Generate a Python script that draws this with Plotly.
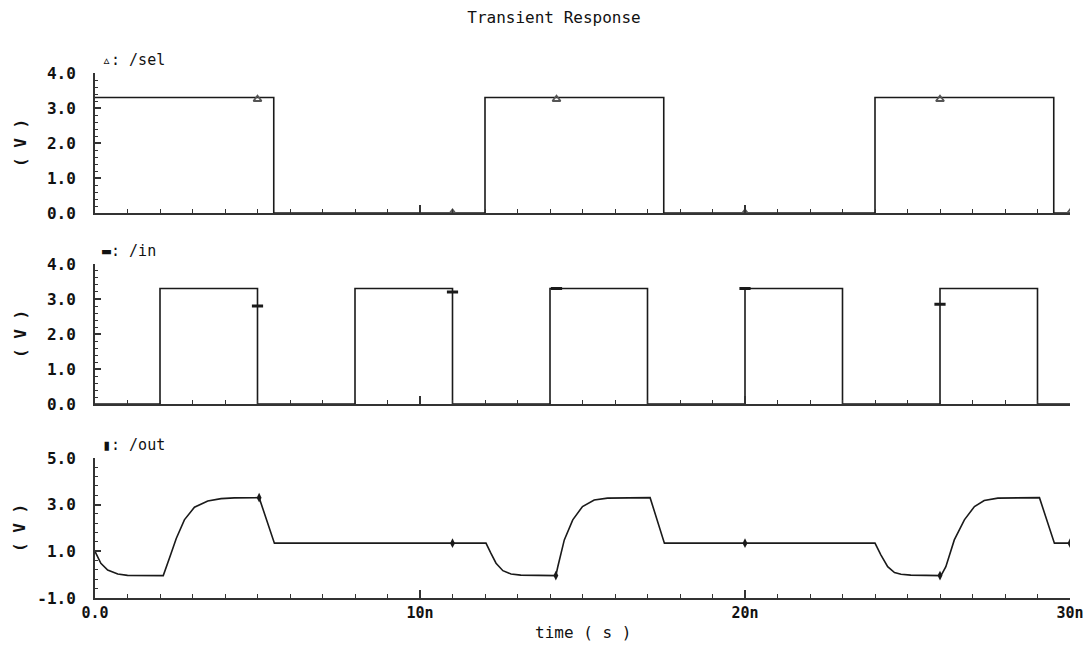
import plotly.graph_objects as go
from plotly.subplots import make_subplots

# ---------------- data (time in ns, values in V) ----------------
sel_t = [0, 5.5, 5.5, 12, 12, 17.5, 17.5, 24, 24, 29.5, 29.5, 30]
sel_v = [3.3, 3.3, 0, 0, 3.3, 3.3, 0, 0, 3.3, 3.3, 0, 0]

in_t = [0, 2, 2, 5, 5, 8, 8, 11, 11, 14, 14, 17, 17, 20, 20, 23, 23, 26, 26, 29, 29, 30]
in_v = [0, 0, 3.3, 3.3, 0, 0, 3.3, 3.3, 0, 0, 3.3, 3.3, 0, 0, 3.3, 3.3, 0, 0, 3.3, 3.3, 0, 0]

out_t = [0.0, 0.18, 0.39, 0.7, 1.0, 2.1, 2.3, 2.5, 2.75, 3.06, 3.47, 3.88, 4.29, 5.05, 5.52,
         12.03, 12.18, 12.34, 12.55, 12.8, 13.1, 14.18, 14.24, 14.44, 14.7, 15.0, 15.36,
         15.77, 17.08, 17.52, 24.0, 24.18, 24.39, 24.6, 24.8, 25.1, 26.03, 26.18, 26.44,
         26.75, 27.06, 27.36, 27.78, 29.06, 29.52, 30.0]
out_v = [1.0, 0.49, 0.2, 0.03, -0.03, -0.04, 0.75, 1.55, 2.35, 2.89, 3.16, 3.26, 3.29, 3.3, 1.35,
         1.35, 0.92, 0.49, 0.17, 0.03, -0.02, -0.04, 0.34, 1.49, 2.35, 2.92, 3.2,
         3.28, 3.3, 1.35, 1.35, 0.85, 0.34, 0.09, 0.02, -0.02, -0.04, 0.34, 1.49,
         2.35, 2.92, 3.18, 3.28, 3.3, 1.35, 1.35]

sel_mk_t = [5.0, 11.0, 14.2, 20.0, 26.0, 30.0]
sel_mk_v = [3.25, 0.0, 3.25, 0.0, 3.25, 0.0]
in_mk_t = [5.0, 11.0, 14.2, 20.0, 26.0]
in_mk_v = [2.8, 3.2, 3.3, 3.3, 2.85]
out_mk_t = [5.05, 11.0, 14.18, 20.0, 26.0, 30.0]
out_mk_v = [3.3, 1.35, -0.04, 1.35, -0.04, 1.35]

x_tickvals = [0, 10, 20, 30]
x_ticktext = ["0.0", "10n", "20n", "30n"]
sel_yticks = [0, 1, 2, 3, 4]
in_yticks = [0, 1, 2, 3, 4]
out_yticks = [-1, 1, 3, 5]

title_text = "Transient Response"
x_title = "time ( s )"
y_title = "( V )"
labels = ["\u25b5: /sel", "\u25ac: /in", "\u25ae: /out"]

# ---------------- figure ----------------
FONT = "DejaVu Sans Mono"
LINE = "#1a1a1a"
fig = make_subplots(rows=3, cols=1, shared_xaxes=True, vertical_spacing=0.1)

fig.add_trace(go.Scatter(x=sel_t, y=sel_v, mode="lines", line=dict(color=LINE, width=1.6)), row=1, col=1)
fig.add_trace(go.Scatter(x=sel_mk_t, y=sel_mk_v, mode="markers",
                         marker=dict(symbol="triangle-up-open", size=7, color="#555",
                                     line=dict(width=1.8, color="#555"))), row=1, col=1)
fig.add_trace(go.Scatter(x=in_t, y=in_v, mode="lines", line=dict(color=LINE, width=1.6)), row=2, col=1)
fig.add_trace(go.Scatter(x=in_mk_t, y=in_mk_v, mode="markers",
                         marker=dict(symbol="line-ew-open", size=8, color=LINE,
                                     line=dict(width=3, color=LINE))), row=2, col=1)
fig.add_trace(go.Scatter(x=out_t, y=out_v, mode="lines", line=dict(color=LINE, width=1.6)), row=3, col=1)
fig.add_trace(go.Scatter(x=out_mk_t, y=out_mk_v, mode="markers",
                         marker=dict(symbol="diamond-tall", size=7, color=LINE)), row=3, col=1)

domains = [[0.7333, 1.0], [0.3695, 0.6362], [0.0, 0.2667]]
yinfo = [(sel_yticks, [0.0, 4.0], 0.2), (in_yticks, [0.0, 4.0], 0.2), (out_yticks, [-1.0, 5.0], 0.4)]
for i in range(3):
    ax = "yaxis" if i == 0 else f"yaxis{i+1}"
    xa = "xaxis" if i == 0 else f"xaxis{i+1}"
    ticks, rng, mdt = yinfo[i]
    fig.layout[ax].update(
        domain=domains[i], range=rng, tickvals=ticks,
        ticktext=[f"{v:.1f}" for v in ticks],
        showgrid=False, zeroline=False, showline=True, linecolor="#333", linewidth=2,
        ticks="inside", ticklen=6, tickwidth=1.5, tickcolor="#333",
        minor=dict(ticks="inside", ticklen=3, dtick=mdt, tick0=rng[0], tickcolor="#333", tickwidth=1),
        ticklabelstandoff=14,
        tickfont=dict(family=FONT, size=16, color="#111", weight="bold"),
    )
    fig.layout[xa].update(
        range=[0, 30], tickvals=x_tickvals, ticktext=x_ticktext,
        showgrid=False, zeroline=False, showline=True, linecolor="#333", linewidth=2,
        ticks="inside", ticklen=8, tickwidth=1.5, tickcolor="#333",
        minor=dict(ticks="inside", ticklen=4, dtick=1, tick0=0, tickcolor="#333", tickwidth=1),
        showticklabels=(i == 2),
        tickfont=dict(family=FONT, size=15, color="#111", weight="bold"),
    )

# y titles and trace labels
ymids = [(d[0] + d[1]) / 2 for d in domains]
for i in range(3):
    fig.add_annotation(text=y_title, xref="paper", yref="paper", x=-0.077, y=ymids[i],
                       textangle=-90, showarrow=False, xanchor="center", yanchor="middle",
                       font=dict(family=FONT, size=16, color="#111", weight="bold"))
    fig.add_annotation(text=labels[i], xref="paper", yref="paper", x=0.005, y=domains[i][1] + 0.004,
                       showarrow=False, xanchor="left", yanchor="bottom",
                       font=dict(family=FONT, size=15, color="#111"))

fig.add_annotation(text=x_title, xref="paper", yref="paper", x=0.5, y=-0.065,
                   showarrow=False, xanchor="center", yanchor="middle",
                   font=dict(family=FONT, size=16, color="#111"))

fig.update_layout(
    width=1092, height=648,
    margin=dict(l=87, r=30, t=65, b=58),
    paper_bgcolor="white", plot_bgcolor="white",
    showlegend=False,
    title=dict(text=title_text, x=0.5, xanchor="center", y=1 - 9 / 648, yanchor="middle",
               font=dict(family=FONT, size=16, color="#111")),
)

fig.write_html("out.html")
